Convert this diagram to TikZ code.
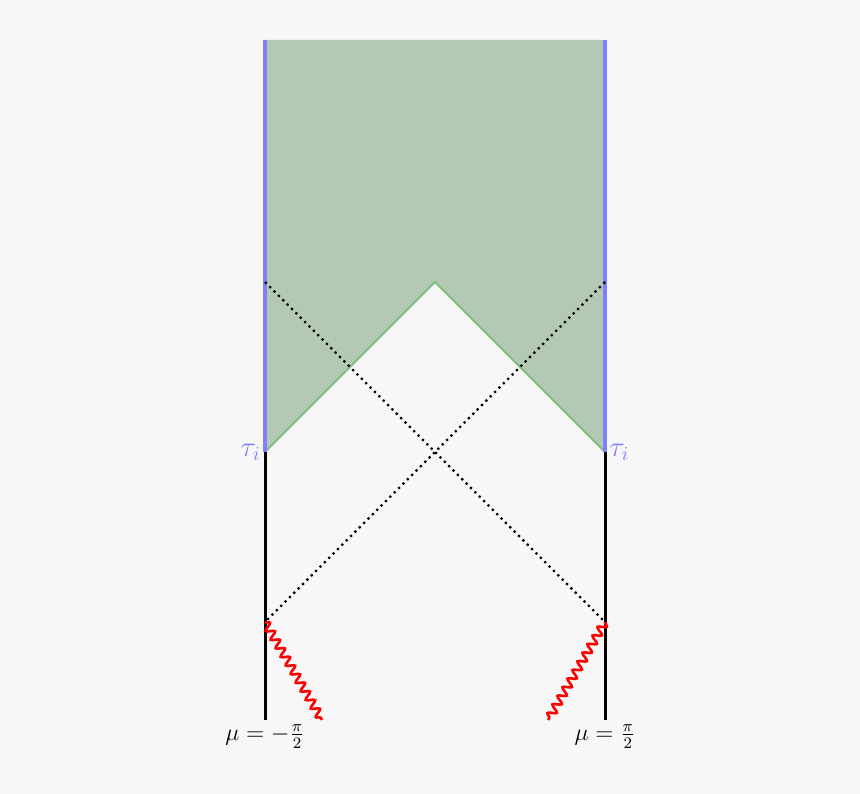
\documentclass[tikz,border=0pt]{standalone}
\usetikzlibrary{decorations.pathmorphing}
\definecolor{bgcol}{RGB}{247,247,247}
\definecolor{wedgefill}{RGB}{180,201,180}
\definecolor{wedgeline}{RGB}{128,192,128}
\definecolor{bdryblue}{RGB}{128,128,255}
\begin{document}
\begin{tikzpicture}[x=3cm,y=3cm,font=\large]
    \pgfmathsetmacro{\shockheight}{0.576}
    \pgfmathsetmacro{\tauheight}{\shockheight+1}
    \pgfmathsetmacro{\topheight}{4}
    \pgfmathsetmacro{\redend}{0.665}
    \fill[bgcol] (-2.559,-0.435) rectangle (2.5,4.235);
    \useasboundingbox (-2.559,-0.435) rectangle (2.5,4.235);
    % points on the two boundaries
    \coordinate (lb) at (-1,0);
    \coordinate (rb) at (1,0);
    \coordinate (ls) at (-1,\shockheight);
    \coordinate (rs) at (1,\shockheight);
    \coordinate (lt) at (-1,\tauheight);
    \coordinate (rt) at (1,\tauheight);
    \coordinate (ld) at (-1,\tauheight+1);
    \coordinate (rd) at (1,\tauheight+1);
    \coordinate (tip) at (0,\tauheight+1);
    \coordinate (ltop) at (-1,\topheight);
    \coordinate (rtop) at (1,\topheight);
    \coordinate (lr) at (-\redend,0);
    \coordinate (rr) at (\redend,0);
    % shaded wedge
    \fill[wedgefill] (lt) -- (tip) -- (rt) -- (rtop) -- (ltop) -- cycle;
    \draw[wedgeline,line width=1pt] (lt) -- (tip) -- (rt);
    % boundaries
    \draw[line width=1.5pt] (lb) -- (lt);
    \draw[line width=1.5pt] (rb) -- (rt);
    \draw[bdryblue,line width=2pt] (lt) -- (ltop);
    \draw[bdryblue,line width=2pt] (rt) -- (rtop);
    % light rays
    \draw[dotted,line width=1.1pt] (ld) -- (rs);
    \draw[dotted,line width=1.1pt] (rd) -- (ls);
    % shells
    \draw[red,line width=1.3pt,decorate,decoration={snake,amplitude=2pt,segment length=5pt}] (ls) -- (lr);
    \draw[red,line width=1.3pt,decorate,decoration={snake,amplitude=2pt,segment length=5pt}] (rs) -- (rr);
    % labels
    \node[below,inner sep=2pt] (mul) at (lb) {$\mu=-\frac{\pi}{2}$};
    \node[below,inner sep=2pt] (mur) at (rb) {$\mu=\frac{\pi}{2}$};
    \node[left,text=bdryblue,inner sep=2pt,font=\Large] (taul) at (lt) {$\tau_i$};
    \node[right,text=bdryblue,inner sep=2pt,font=\Large] (taur) at (rt) {$\tau_i$};
\end{tikzpicture}
\end{document}
